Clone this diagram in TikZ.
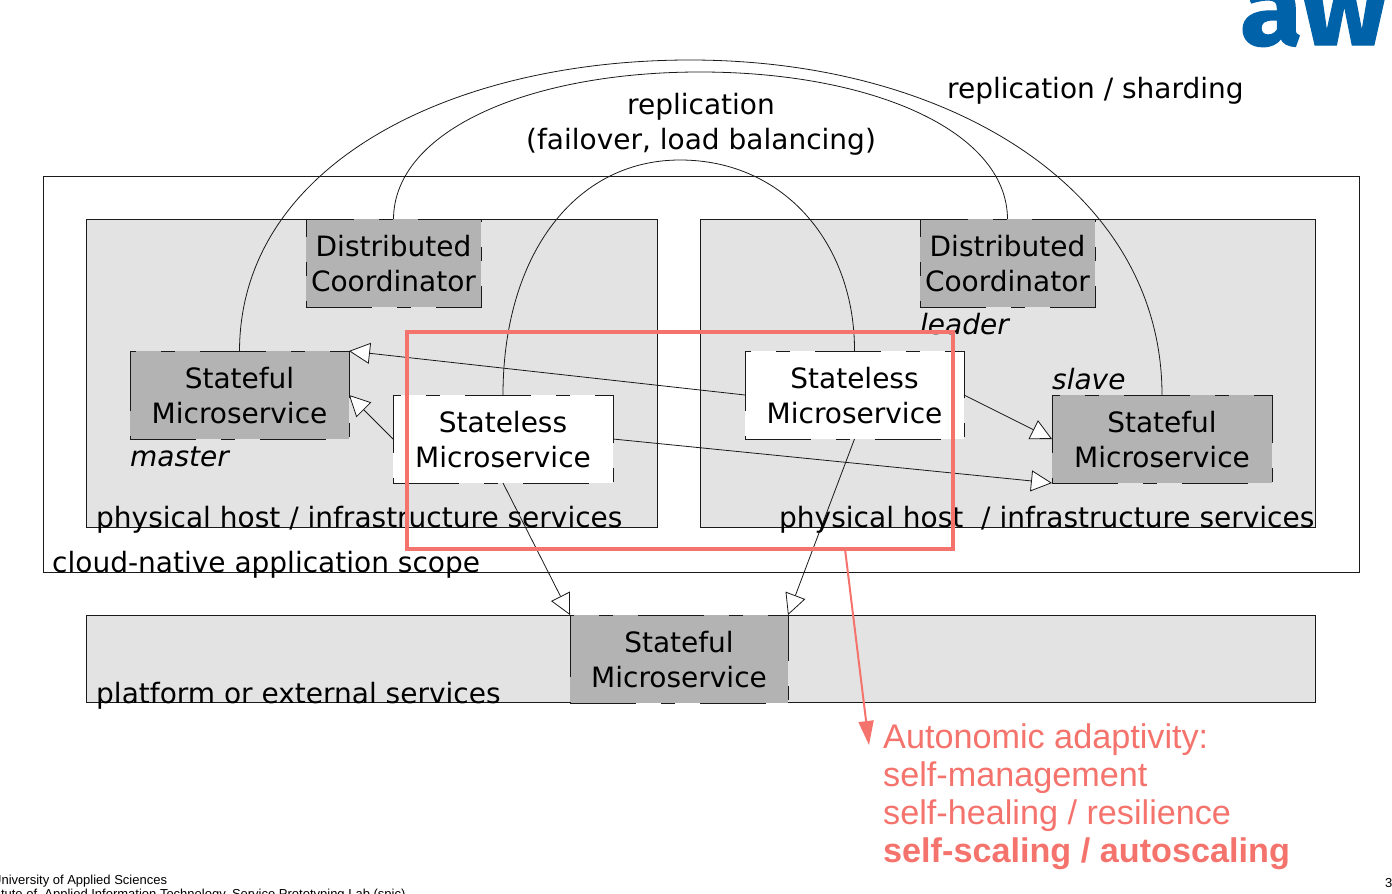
\documentclass[tikz,border=0pt]{standalone}
\usepackage{fontspec}
\setmainfont{DejaVu Sans}
\newfontfamily\lib{Liberation Sans}
\newfontfamily\logof[FakeBold=1.2]{Fira Sans Bold}
\usetikzlibrary{arrows.meta}
\definecolor{hostgray}{HTML}{E3E3E3}
\definecolor{boxgray}{HTML}{B3B3B3}
\definecolor{redc}{HTML}{F4736C}
\definecolor{logoblue}{HTML}{0062A8}
\definecolor{edge}{HTML}{1A1A1A}
\newcommand{\dashoutline}[1]{\draw[outl] (#1.south west) -- (#1.south east) -- (#1.north east) -- (#1.north west) -- cycle;}
\newcommand{\bxt}{\rule{0pt}{23pt}}
\tikzset{
  region/.style={draw=edge,line width=.8pt,fill=hostgray,anchor=north west,inner sep=0pt,outer sep=0pt},
  outl/.style={draw=edge,line width=.9pt,dash pattern=on 66pt off 25pt on 14pt off 25pt},
  dashbox/.style={align=center,font=\fontsize{28}{35}\selectfont,inner sep=0pt,outer sep=0pt,anchor=north west},
  statefulbox/.style={dashbox,fill=boxgray,minimum width=219pt,minimum height=88pt},
  statelessbox/.style={dashbox,fill=white,minimum width=220pt,minimum height=88pt},
  coordbox/.style={dashbox,fill=boxgray,minimum width=175pt,minimum height=88pt},
  lbl/.style={font=\fontsize{28}{35}\selectfont,inner sep=0pt,anchor=base west},
  ilbl/.style={font=\itshape\fontsize{28}{35}\selectfont,inner sep=0pt,anchor=base west},
  curve/.style={draw=edge,line width=.8pt},
  dep/.style={draw=edge,line width=.8pt,-{Triangle[length=21pt,width=21pt,fill=white,line width=.8pt]}},
  foot/.style={font=\lib\fontsize{13}{15}\selectfont,inner sep=0pt,anchor=base west},
}
\begin{document}
\begin{tikzpicture}[x=1pt,y=-1pt]
\useasboundingbox (0,0) rectangle (1392,894);
\clip (0,0) rectangle (1392,894);
% logo
\node[font=\logof\fontsize{104}{104}\selectfont,text=logoblue,inner sep=0pt,anchor=base west,xscale=1.09] (logo) at (1240,45) {aw};
% regions
\node[region,fill=white,minimum width=1316pt,minimum height=396pt] (scope) at (43,176) {};
\node[region,minimum width=571pt,minimum height=308pt] (hostL) at (86,219) {};
\node[region,minimum width=615pt,minimum height=308pt] (hostR) at (700,219) {};
\node[region,minimum width=1229pt,minimum height=87pt] (platform) at (86,615) {};
% boxes
\node[coordbox] (coordL) at (306,219) {\bxt Distributed\\Coordinator};
\node[coordbox] (coordR) at (920,219) {\bxt Distributed\\Coordinator};
\node[statefulbox] (sfL) at (130,351) {\bxt Stateful\\Microservice};
\node[statelessbox] (slL) at (393,395) {\bxt Stateless\\Microservice};
\node[statelessbox,minimum width=219pt] (slR) at (745,351) {\bxt Stateless\\Microservice};
\node[statefulbox,minimum width=220pt] (sfR) at (1052,395) {\bxt Stateful\\Microservice};
\node[statefulbox,minimum width=218pt] (sfB) at (570,615) {\bxt Stateful\\Microservice};
\dashoutline{coordL}\dashoutline{coordR}\dashoutline{sfL}\dashoutline{slL}\dashoutline{slR}\dashoutline{sfR}\dashoutline{sfB}
% curves
\draw[curve] (sfL.north) .. controls (240,165) and (450,60) .. (690,60) .. controls (950,60) and (1162,190) .. (sfR.north);
\draw[curve] (coordL.north) .. controls (394,130) and (530,72) .. (700,72) .. controls (870,72) and (1007,130) .. (coordR.north);
\draw[curve] (slL.north) .. controls (503,255) and (575,160) .. (680,160) .. controls (785,160) and (855,245) .. (slR.north);
% dependency arrows
\draw[dep] (slL.west) -- (sfL.east);
\draw[dep] (slR.west) -- (sfL.north east);
\draw[dep] (slR.east) -- (sfR.west);
\draw[dep] (slL.east) -- (sfR.south west);
\draw[dep] (slL.south) -- (sfB.north west);
\draw[dep] (slR.south) -- (sfB.north east);
% labels
\node[lbl,anchor=base] (t1) at (701,114) {replication};
\node[lbl,anchor=base] (t2) at (701,149) {(failover, load balancing)};
\node[lbl] (t3) at (947,98) {replication / sharding};
\node[ilbl] (t4) at (920,334) {leader};
\node[ilbl] (t5) at (1052,389) {slave};
\node[ilbl] (t6) at (130,466) {master};
\node[lbl] (t7) at (96,527) {physical host / infrastructure services};
\node[lbl] (t8) at (779,527) {physical host\ \ / infrastructure services};
\node[lbl] (t9) at (52,572) {cloud-native application scope};
\node[lbl] (t10) at (96,703) {platform or external services};
% red
\node[draw=redc,line width=3.2pt,minimum width=546pt,minimum height=217pt,inner sep=0pt,outer sep=0pt,anchor=north west] (focus) at (407,332) {};
\coordinate (fstart) at (845,549);
\node[font=\lib\fontsize{34.2}{38}\selectfont,text=redc,inner sep=0pt,anchor=north west,align=left] (auto) at (883,724) {Autonomic adaptivity:\\self-management\\self-healing / resilience\\\textbf{self-scaling / autoscaling}};
\coordinate (ftip) at (869,745);
\draw[draw=redc,line width=2pt,-{Triangle[length=24pt,width=15pt,fill=redc]}] (fstart) -- (ftip);
% footer
\node[foot] (f1) at (-8,884) {University of Applied Sciences};
\node[foot] (f2) at (-23,898) {Institute of\ \ Applied Information Technology, Service Prototyping Lab (spic)};
\node[foot] (f3) at (1385,887) {37};
\end{tikzpicture}
\end{document}
